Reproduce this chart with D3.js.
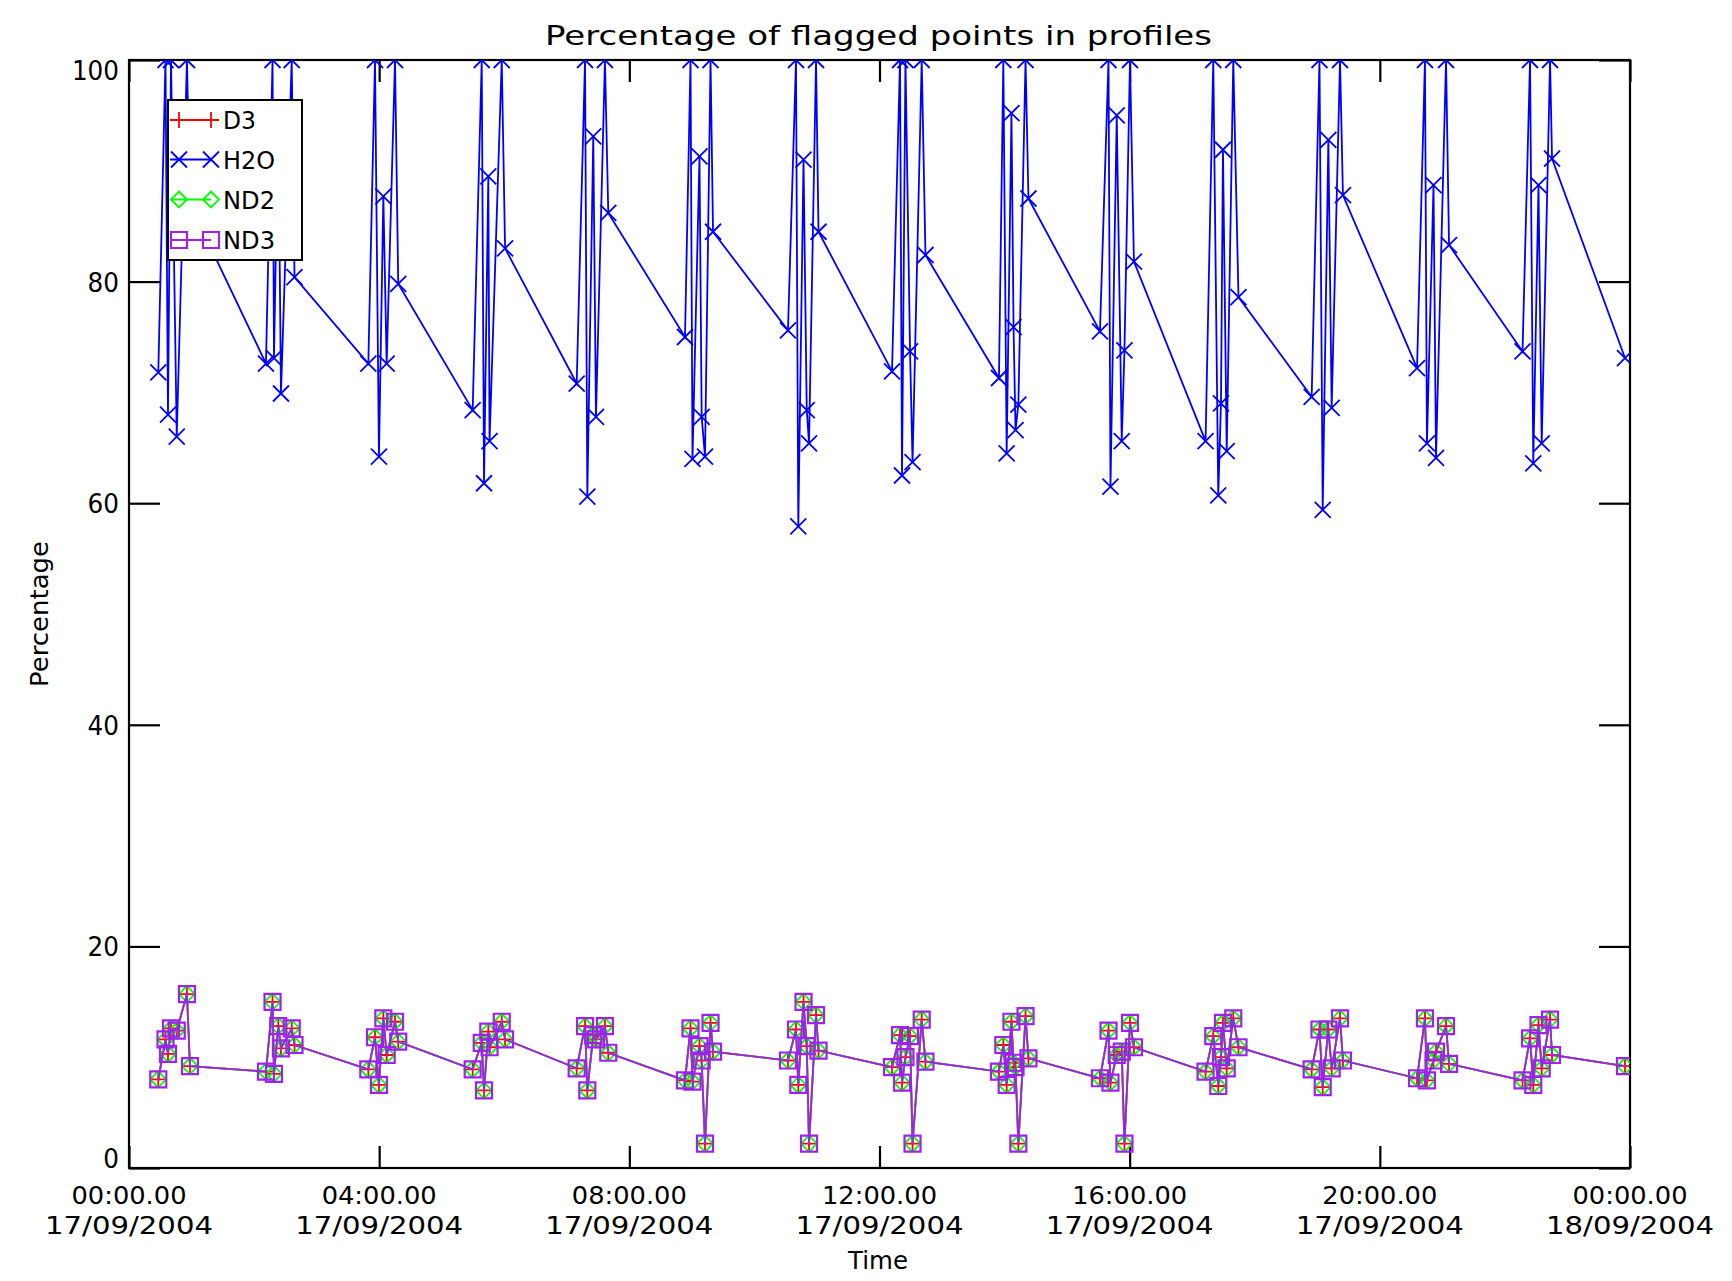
<!DOCTYPE html>
<html>
<head>
<meta charset="utf-8">
<script src="https://cdn.jsdelivr.net/npm/d3@7"></script>
<style>
  body { margin: 0; background: #ffffff; }
  svg { display: block; }
  text { font-family: "DejaVu Sans", "Liberation Sans", sans-serif; fill: #000; }
</style>
</head>
<body>
<svg id="chart" width="1732" height="1281"></svg>
<script>
// ---------------- DATA ----------------
const chartTitle = "Percentage of flagged points in profiles";
const xAxisTitle = "Time";
const yAxisTitle = "Percentage";
const seriesNames = ["D3", "H2O", "ND2", "ND3"];

// minutes after 00:00 UTC on 17/09/2004
const timeMinutes = [
  28.1, 35.0, 37.4, 40.3, 45.8, 55.6, 58.5,
  131.4, 137.7, 139.1, 143.2, 145.8, 156.1, 158.8,
  229.6, 236.0, 239.8, 244.0, 247.2, 255.2, 258.3,
  329.7, 338.4, 340.6, 344.7, 345.9, 357.6, 360.8,
  429.5, 437.5, 439.7, 445.4, 448.0, 456.6, 459.8,
  533.4, 538.7, 540.6, 547.3, 549.4, 552.6, 557.9, 560.3,
  632.2, 639.9, 642.1, 647.1, 650.2, 652.4, 659.1, 661.5,
  732.0, 739.7, 741.6, 744.9, 749.3, 751.7, 760.5, 764.1,
  834.6, 838.8, 842.0, 846.6, 848.6, 850.5, 853.2, 860.1, 862.9,
  931.5, 939.7, 941.6, 947.6, 952.4, 955.0, 960.3, 964.1,
  1032.8, 1040.2, 1045.0, 1047.6, 1049.5, 1053.1, 1059.4, 1064.4,
  1134.6, 1142.1, 1145.2, 1150.6, 1153.8, 1161.8, 1164.6,
  1235.7, 1243.3, 1245.2, 1251.5, 1253.9, 1263.5, 1266.4,
  1336.9, 1344.1, 1347.2, 1352.2, 1355.3, 1363.3, 1365.2, 1435.2
];

const h2oValues = [
  71.8, 100, 68.0, 100, 66.0, 100, 87.0,
  72.6, 100, 73.1, 95.0, 69.9, 100, 80.4,
  72.6, 100, 64.2, 87.7, 72.6, 100, 79.8,
  68.4, 100, 61.8, 89.5, 65.6, 100, 83.0,
  70.8, 100, 60.6, 93.1, 67.8, 100, 86.2,
  75.0, 100, 64.0, 91.3, 67.8, 64.2, 100, 84.5,
  75.6, 100, 57.9, 91.0, 68.4, 65.4, 100, 84.5,
  71.9, 100, 62.5, 100, 73.7, 63.7, 100, 82.4,
  71.3, 100, 64.5, 95.2, 75.9, 66.6, 68.9, 100, 87.5,
  75.5, 100, 61.5, 95.0, 65.6, 73.8, 100, 81.8,
  65.6, 100, 60.7, 69.0, 91.9, 64.7, 100, 78.6,
  69.6, 100, 59.4, 92.8, 68.6, 100, 87.8,
  72.2, 100, 65.4, 88.7, 64.1, 100, 83.3,
  73.7, 100, 63.6, 88.7, 65.4, 100, 91.1, 73.1
];

const d3Values = [
  8.0, 11.6, 10.3, 12.6, 12.4, 15.7, 9.2,
  8.7, 15.0, 8.5, 12.8, 10.8, 12.6, 11.1,
  8.9, 11.8, 7.5, 13.5, 10.2, 13.2, 11.4,
  8.9, 11.3, 7.0, 12.3, 10.9, 13.2, 11.6,
  9.0, 12.8, 7.0, 12.0, 11.6, 12.8, 10.4,
  7.9, 12.6, 7.8, 11.0, 9.7, 2.2, 13.1, 10.5,
  9.7, 12.5, 7.5, 15.0, 11.0, 2.2, 13.8, 10.6,
  9.1, 12.0, 7.7, 10.0, 11.9, 2.2, 13.4, 9.6,
  8.7, 11.1, 7.5, 13.2, 9.5, 9.1, 2.2, 13.7, 9.9,
  8.1, 12.4, 7.7, 10.2, 10.5, 2.2, 13.1, 10.9,
  8.7, 11.9, 7.4, 10.0, 13.1, 9.0, 13.5, 10.9,
  8.9, 12.5, 7.3, 12.5, 9.0, 13.5, 9.7,
  8.1, 13.5, 7.9, 9.7, 10.5, 12.8, 9.4,
  7.9, 11.7, 7.5, 12.9, 9.0, 13.4, 10.2, 9.2
];

const nd2Values = [
  8.0, 11.6, 10.3, 12.6, 12.4, 15.7, 9.2,
  8.7, 15.0, 8.5, 12.8, 10.8, 12.6, 11.1,
  8.9, 11.8, 7.5, 13.5, 10.2, 13.2, 11.4,
  8.9, 11.3, 7.0, 12.3, 10.9, 13.2, 11.6,
  9.0, 12.8, 7.0, 12.0, 11.6, 12.8, 10.4,
  7.9, 12.6, 7.8, 11.0, 9.7, 2.2, 13.1, 10.5,
  9.7, 12.5, 7.5, 15.0, 11.0, 2.2, 13.8, 10.6,
  9.1, 12.0, 7.7, 10.0, 11.9, 2.2, 13.4, 9.6,
  8.7, 11.1, 7.5, 13.2, 9.5, 9.1, 2.2, 13.7, 9.9,
  8.1, 12.4, 7.7, 10.2, 10.5, 2.2, 13.1, 10.9,
  8.7, 11.9, 7.4, 10.0, 13.1, 9.0, 13.5, 10.9,
  8.9, 12.5, 7.3, 12.5, 9.0, 13.5, 9.7,
  8.1, 13.5, 7.9, 9.7, 10.5, 12.8, 9.4,
  7.9, 11.7, 7.5, 12.9, 9.0, 13.4, 10.2, 9.2
];

const nd3Values = [
  8.0, 11.6, 10.3, 12.6, 12.4, 15.7, 9.2,
  8.7, 15.0, 8.5, 12.8, 10.8, 12.6, 11.1,
  8.9, 11.8, 7.5, 13.5, 10.2, 13.2, 11.4,
  8.9, 11.3, 7.0, 12.3, 10.9, 13.2, 11.6,
  9.0, 12.8, 7.0, 12.0, 11.6, 12.8, 10.4,
  7.9, 12.6, 7.8, 11.0, 9.7, 2.2, 13.1, 10.5,
  9.7, 12.5, 7.5, 15.0, 11.0, 2.2, 13.8, 10.6,
  9.1, 12.0, 7.7, 10.0, 11.9, 2.2, 13.4, 9.6,
  8.7, 11.1, 7.5, 13.2, 9.5, 9.1, 2.2, 13.7, 9.9,
  8.1, 12.4, 7.7, 10.2, 10.5, 2.2, 13.1, 10.9,
  8.7, 11.9, 7.4, 10.0, 13.1, 9.0, 13.5, 10.9,
  8.9, 12.5, 7.3, 12.5, 9.0, 13.5, 9.7,
  8.1, 13.5, 7.9, 9.7, 10.5, 12.8, 9.4,
  7.9, 11.7, 7.5, 12.9, 9.0, 13.4, 10.2, 9.2
];

const xTickHours = [0, 4, 8, 12, 16, 20, 24];
const xTickTimeLabels = ["00:00.00", "04:00.00", "08:00.00", "12:00.00", "16:00.00", "20:00.00", "00:00.00"];
const xTickDateLabels = ["17/09/2004", "17/09/2004", "17/09/2004", "17/09/2004", "17/09/2004", "17/09/2004", "18/09/2004"];
const yTickValues = [0, 20, 40, 60, 80, 100];
const yTickLabels = ["0", "20", "40", "60", "80", "100"];

// ---------------- LAYOUT / STYLE ----------------
const plot = { left: 129, right: 1630, top: 60, bottom: 1168 };
const colors = { D3: "#ff0000", H2O: "#0000ff", ND2: "#00ff00", ND3: "#a020f0" };
const FS = 27;
const LW = 1.8;

const svg = d3.select("#chart");
svg.append("rect").attr("width", 1732).attr("height", 1281).attr("fill", "#fff");

const t0 = Date.UTC(2004, 8, 17, 0, 0, 0);
const x = d3.scaleUtc()
  .domain([new Date(t0), new Date(t0 + 24 * 3600e3)])
  .range([plot.left, plot.right]);
const y = d3.scaleLinear().domain([0, 100]).range([plot.bottom, plot.top]);

const toDate = m => new Date(t0 + m * 60e3);
const tickDates = xTickHours.map(h => new Date(t0 + h * 3600e3));

// axes (ticks inward)
const axisStyle = g => {
  g.select(".domain").remove();
  g.selectAll(".tick line").attr("stroke", "#000").attr("stroke-width", 2.2);
  g.selectAll(".tick text").remove();
};
svg.append("g").attr("transform", `translate(0,${plot.bottom})`)
  .call(d3.axisBottom(x).tickValues(tickDates).tickSize(-22).tickFormat(""))
  .call(axisStyle);
svg.append("g").attr("transform", `translate(0,${plot.top})`)
  .call(d3.axisTop(x).tickValues(tickDates).tickSize(-22).tickFormat(""))
  .call(axisStyle);
svg.append("g").attr("transform", `translate(${plot.left},0)`)
  .call(d3.axisLeft(y).tickValues(yTickValues).tickSize(-31).tickFormat(""))
  .call(axisStyle);
svg.append("g").attr("transform", `translate(${plot.right},0)`)
  .call(d3.axisRight(y).tickValues(yTickValues).tickSize(-31).tickFormat(""))
  .call(axisStyle);

// frame
svg.append("rect")
  .attr("x", plot.left).attr("y", plot.top)
  .attr("width", plot.right - plot.left).attr("height", plot.bottom - plot.top)
  .attr("fill", "none").attr("stroke", "#000").attr("stroke-width", 2.2);

// tick labels (two lines under each time tick)
const xl = svg.append("g");
tickDates.forEach((d, i) => {
  xl.append("text").attr("x", x(d)).attr("y", 1204).attr("text-anchor", "middle")
    .attr("font-size", 25).attr("textLength", 115).attr("lengthAdjust", "spacingAndGlyphs")
    .text(xTickTimeLabels[i]);
  xl.append("text").attr("x", x(d)).attr("y", 1234).attr("text-anchor", "middle")
    .attr("font-size", 25).attr("textLength", 168).attr("lengthAdjust", "spacingAndGlyphs")
    .text(xTickDateLabels[i]);
});
const yl = svg.append("g");
yTickValues.forEach((v, i) => {
  const cy = Math.min(Math.max(y(v), plot.top + 10), plot.bottom - 10);
  yl.append("text").attr("x", 119).attr("y", cy + 10).attr("text-anchor", "end")
    .attr("font-size", FS).attr("textLength", 15.7 * yTickLabels[i].length)
    .attr("lengthAdjust", "spacingAndGlyphs")
    .text(yTickLabels[i]);
});

// titles
svg.append("text").attr("x", (plot.left + plot.right) / 2 - 1).attr("y", 45)
  .attr("text-anchor", "middle").attr("font-size", FS)
  .attr("textLength", 667).attr("lengthAdjust", "spacingAndGlyphs").text(chartTitle);
svg.append("text").attr("x", 878).attr("y", 1269)
  .attr("text-anchor", "middle").attr("font-size", 25)
  .attr("textLength", 60).attr("lengthAdjust", "spacingAndGlyphs").text(xAxisTitle);
svg.append("text").attr("transform", `translate(48,614) rotate(-90)`)
  .attr("text-anchor", "middle").attr("font-size", 25)
  .attr("textLength", 146).attr("lengthAdjust", "spacingAndGlyphs").text(yAxisTitle);

// ---------------- DATA MARKS ----------------
svg.append("clipPath").attr("id", "plotclip").append("rect")
  .attr("x", plot.left).attr("y", plot.top)
  .attr("width", plot.right - plot.left).attr("height", plot.bottom - plot.top);
const dataG = svg.append("g").attr("clip-path", "url(#plotclip)");

const S = 8;
const symbolPaths = {
  D3: `M${-S},0H${S}M0,${-S}V${S}`,
  H2O: `M${-S},${-S}L${S},${S}M${-S},${S}L${S},${-S}`,
  ND2: `M0,${-S}L${S},0L0,${S}L${-S},0Z`,
  ND3: `M${-S},${-S}H${S}V${S}H${-S}Z`
};

const seriesData = {
  D3: d3Values, H2O: h2oValues, ND2: nd2Values, ND3: nd3Values
};

const line = d3.line().x(d => x(d.t)).y(d => y(d.v));

seriesNames.forEach(name => {
  const pts = timeMinutes.map((m, i) => ({ t: toDate(m), v: seriesData[name][i] }));
  const g = dataG.append("g");
  g.append("path").datum(pts).attr("d", line)
    .attr("fill", "none").attr("stroke", colors[name]).attr("stroke-width", LW);
  g.selectAll("path.mk").data(pts).join("path").attr("class", "mk")
    .attr("transform", d => `translate(${x(d.t)},${y(d.v)})`)
    .attr("d", symbolPaths[name])
    .attr("fill", "none").attr("stroke", colors[name]).attr("stroke-width", name === "ND3" ? 2.2 : LW);
});

// ---------------- LEGEND ----------------
const lg = svg.append("g");
lg.append("rect").attr("x", 168).attr("y", 100).attr("width", 134).attr("height", 160)
  .attr("fill", "#fff").attr("stroke", "#000").attr("stroke-width", 2);
const legendY = [120, 159.5, 199.5, 240];
const legendTextLen = [33, 52, 52, 52];
seriesNames.forEach((name, i) => {
  const ly = legendY[i];
  lg.append("line").attr("x1", 170).attr("x2", 211).attr("y1", ly).attr("y2", ly)
    .attr("stroke", colors[name]).attr("stroke-width", LW);
  [179, 211].forEach(mx => {
    lg.append("path").attr("transform", `translate(${mx},${ly})`)
      .attr("d", symbolPaths[name]).attr("fill", "none")
      .attr("stroke", colors[name]).attr("stroke-width", name === "ND3" ? 2.2 : LW);
  });
  lg.append("text").attr("x", 223).attr("y", ly + 9).attr("font-size", 25)
    .attr("textLength", legendTextLen[i]).attr("lengthAdjust", "spacingAndGlyphs")
    .text(name);
});
</script>
</body>
</html>
